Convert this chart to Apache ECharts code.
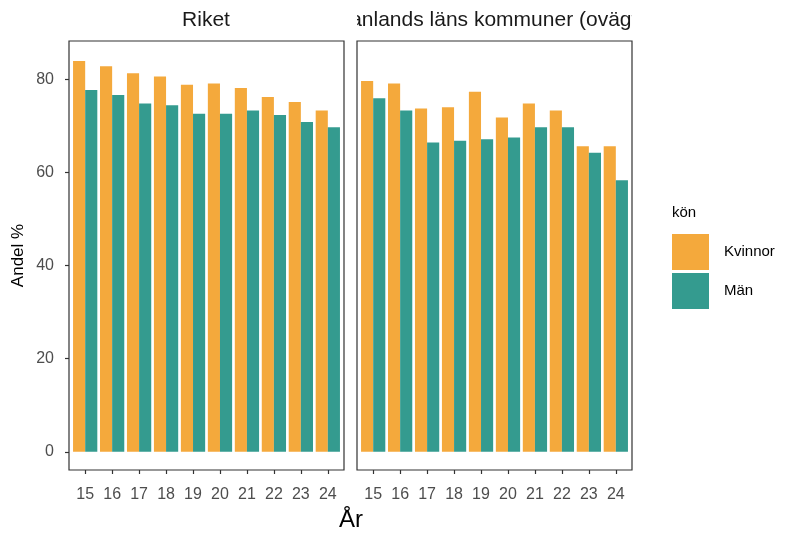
<!DOCTYPE html>
<html>
<head>
<meta charset="utf-8">
<script src="https://cdn.jsdelivr.net/npm/echarts@6/dist/echarts.min.js"></script>
<style>
  html, body { margin: 0; padding: 0; background: #fff; }
</style>
</head>
<body>
<div id="chart" style="width:788px;height:536px;"></div>
<script>
  // years (x categories, 2015-2024 shown as two digits)
  var years = [15, 16, 17, 18, 19, 20, 21, 22, 23, 24];
  var yTicks = [0, 20, 40, 60, 80];
  var panelTitles = ['Riket', 'Västmanlands läns kommuner (ovägt medel)'];
  var seriesNames = ['Kvinnor', 'Män'];

  // Riket
  var riketKvinnor = [83.9, 82.8, 81.3, 80.6, 78.8, 79.1, 78.1, 76.2, 75.1, 73.3];
  var riketMan     = [77.7, 76.6, 74.8, 74.4, 72.6, 72.6, 73.3, 72.3, 70.8, 69.7];
  // kommuner (ovägt)
  var kommunKvinnor = [79.6, 79.1, 73.7, 74.0, 77.3, 71.8, 74.8, 73.3, 65.6, 65.6];
  var kommunMan     = [75.9, 73.3, 66.4, 66.8, 67.1, 67.5, 69.7, 69.7, 64.2, 58.3];

  var colKvinnor = '#F4A93C';
  var colMan = '#349B8F';
  var font = 'Liberation Sans, Arial, sans-serif';

  function pairs(vals) {
    var out = [];
    for (var i = 0; i < years.length; i++) {
      out.push([years[i], vals[i]]);
    }
    return out;
  }

  function makeX(idx) {
    return {
      type: 'value',
      gridIndex: idx,
      position: 'bottom',
      min: 14.4,
      max: 24.6,
      axisLine: { show: false, onZero: false },
      splitLine: { show: false },
      axisTick: { show: true, inside: false, length: 4, customValues: years, lineStyle: { color: '#333', width: 1.2 } },
      axisLabel: { customValues: years, fontSize: 16, color: '#4d4d4d', margin: 17, fontFamily: font }
    };
  }

  function makeY(idx) {
    return {
      type: 'value',
      gridIndex: idx,
      position: 'left',
      min: -3.9,
      max: 88.2,
      name: idx === 0 ? 'Andel %' : '',
      nameLocation: 'middle',
      nameRotate: 90,
      nameGap: 42,
      nameTextStyle: { fontSize: 17, color: '#000', fontFamily: font },
      axisLine: { show: false, onZero: false },
      splitLine: { show: false },
      axisTick: { show: idx === 0, inside: false, length: 4, customValues: yTicks, lineStyle: { color: '#333', width: 1.2 } },
      axisLabel: { show: idx === 0, customValues: yTicks, fontSize: 16, color: '#4d4d4d', margin: 15, fontFamily: font }
    };
  }

  function makeBar(name, vals, idx, color) {
    return {
      type: 'bar',
      name: name,
      xAxisIndex: idx,
      yAxisIndex: idx,
      data: pairs(vals),
      barWidth: '45%',
      barGap: '0%',
      itemStyle: { color: color },
      emphasis: { disabled: true }
    };
  }

  var option = {
    animation: false,
    backgroundColor: '#fff',
    title: [
      { text: panelTitles[0], left: 206, top: 10, padding: 0, textAlign: 'center',
        textStyle: { fontSize: 21, fontWeight: 'normal', color: '#1a1a1a', fontFamily: font } },
      { text: panelTitles[1], left: 499, top: 10, padding: 0, textAlign: 'center',
        textStyle: { fontSize: 21, fontWeight: 'normal', color: '#1a1a1a', fontFamily: font } },
      { text: 'År', left: 351, top: 508, padding: 0, textAlign: 'center',
        textStyle: { fontSize: 24, fontWeight: 'normal', color: '#000', fontFamily: font } },
      { text: 'kön', left: 672, top: 205, padding: 0,
        textStyle: { fontSize: 15, fontWeight: 'normal', color: '#000', fontFamily: font } }
    ],
    // strip text is clipped at the panel edges
    graphic: [
      { type: 'rect', z: 100, shape: { x: 232, y: 0, width: 125, height: 38 }, style: { fill: '#fff' } },
      { type: 'rect', z: 100, shape: { x: 632, y: 0, width: 156, height: 38 }, style: { fill: '#fff' } }
    ],
    legend: {
      data: seriesNames,
      orient: 'vertical',
      left: 667,
      top: 229,
      itemWidth: 37,
      itemHeight: 36,
      itemGap: 3,
      icon: 'rect',
      selectedMode: false,
      textStyle: { fontSize: 15, color: '#000', fontFamily: font, padding: [0, 0, 0, 10] }
    },
    grid: [
      { left: 69, top: 41, width: 275, height: 429, show: true, borderColor: '#333', borderWidth: 1.2, backgroundColor: '#fff' },
      { left: 357, top: 41, width: 275, height: 429, show: true, borderColor: '#333', borderWidth: 1.2, backgroundColor: '#fff' }
    ],
    xAxis: [makeX(0), makeX(1)],
    yAxis: [makeY(0), makeY(1)],
    series: [
      makeBar(seriesNames[0], riketKvinnor, 0, colKvinnor),
      makeBar(seriesNames[1], riketMan, 0, colMan),
      makeBar(seriesNames[0], kommunKvinnor, 1, colKvinnor),
      makeBar(seriesNames[1], kommunMan, 1, colMan)
    ]
  };

  var chart = echarts.init(document.getElementById('chart'));
  chart.setOption(option);
</script>
</body>
</html>
